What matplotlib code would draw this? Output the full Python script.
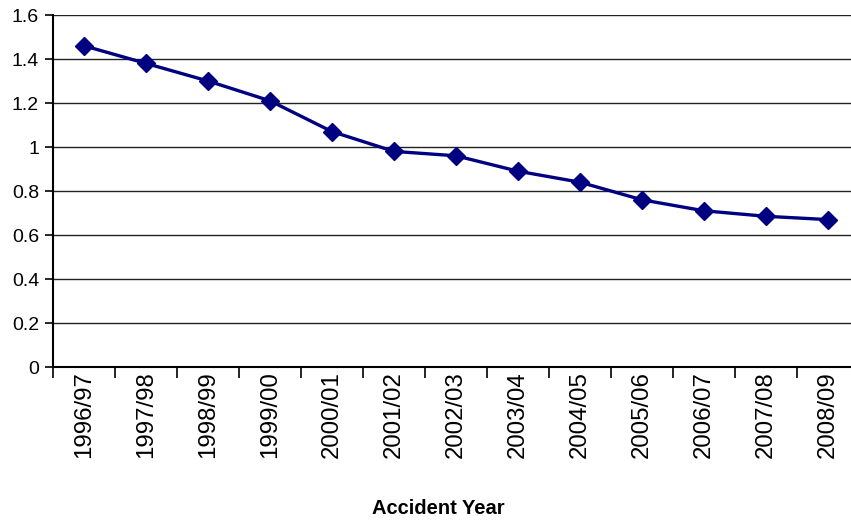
import matplotlib
matplotlib.use("Agg")
import matplotlib.pyplot as plt
import numpy as np

years = ["1996/97", "1997/98", "1998/99", "1999/00", "2000/01", "2001/02",
         "2002/03", "2003/04", "2004/05", "2005/06", "2006/07", "2007/08",
         "2008/09"]
values = [1.46, 1.38, 1.30, 1.21, 1.07, 0.98, 0.96, 0.89, 0.84, 0.76,
          0.71, 0.685, 0.67]
y_ticks = [0, 0.2, 0.4, 0.6, 0.8, 1, 1.2, 1.4, 1.6]
y_tick_labels = ["0", "0.2", "0.4", "0.6", "0.8", "1", "1.2", "1.4", "1.6"]

plt.rcParams["font.family"] = ["Liberation Sans", "DejaVu Sans"]

W, H = 851, 520
fig = plt.figure(figsize=(W / 100, H / 100), dpi=100)
left, right, top, bottom = 53, 859, 15, 367
ax = fig.add_axes([left / W, 1 - bottom / H, (right - left) / W, (bottom - top) / H])

x = np.arange(len(years))
ax.plot(x, values, color="#000080", lw=2.4, marker="D", markersize=9.5,
        markerfacecolor="#000080", markeredgecolor="#000080", zorder=3,
        solid_joinstyle="round")

ax.set_xlim(-0.5, len(years) - 0.5)
ax.set_ylim(0, 1.6)

ax.set_yticks(y_ticks)
ax.set_yticklabels(y_tick_labels, fontsize=14)
ax.yaxis.grid(True, color="#222222", lw=1.0)
ax.set_axisbelow(True)

# category labels centred on points, ticks on the category boundaries
ax.set_xticks(x)
ax.set_xticklabels(years, rotation=90, fontsize=17.3)
ax.tick_params(axis="x", which="major", length=0, pad=3)
ax.set_xticks(np.arange(len(years) + 1) - 0.5, minor=True)
ax.tick_params(axis="x", which="minor", length=8, width=1.2, direction="out",
               color="black")
ax.tick_params(axis="y", length=6, width=1.2, color="black", pad=4)

for side in ("top", "right"):
    ax.spines[side].set_visible(False)
ax.spines["left"].set_linewidth(1.5)
ax.spines["bottom"].set_linewidth(1.5)
ax.spines["left"].set_color("black")
ax.spines["bottom"].set_color("black")

fig.text(438 / W, 1 - 508 / H, "Accident Year", ha="center", va="center",
         fontsize=14.5, fontweight="bold")

fig.savefig("out.png", dpi=100, facecolor="white")
